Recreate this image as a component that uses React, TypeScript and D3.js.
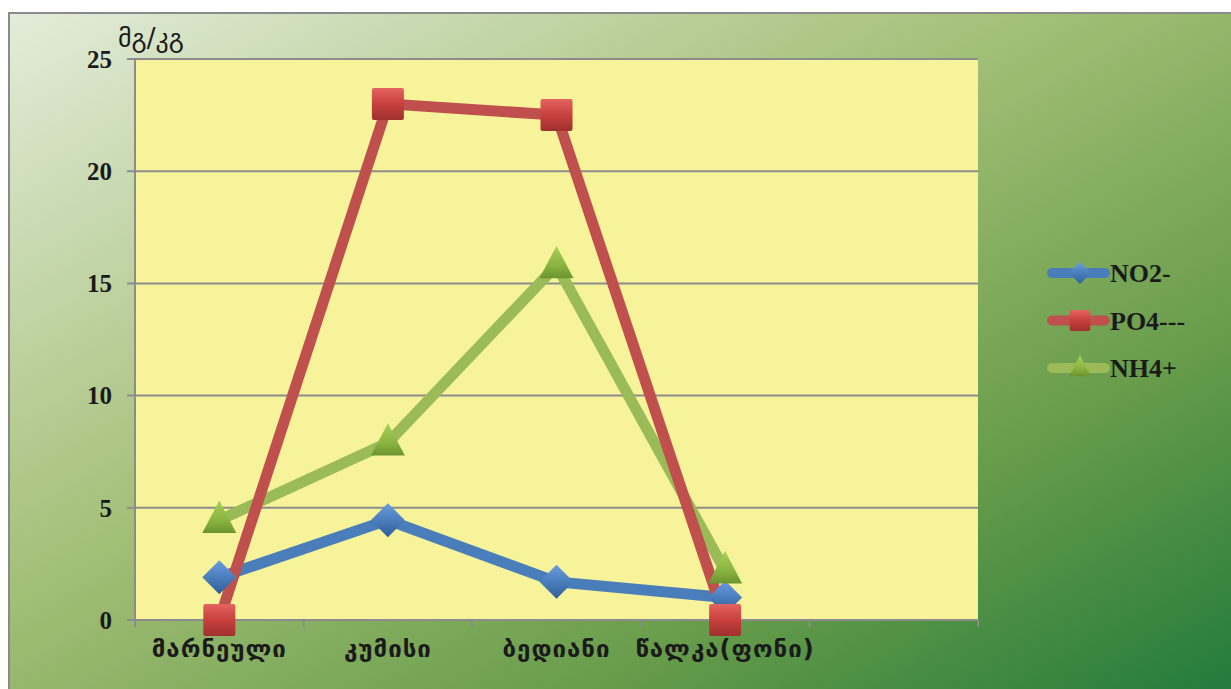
import React from "react";
import * as d3 from "d3";

const categories = ["მარნეული", "კუმისი", "ბედიანი", "წალკა(ფონი)", ""];
const no2 = [1.9, 4.45, 1.7, 1.0];
const po4 = [0, 23.0, 22.5, 0];
const nh4 = [4.45, 7.9, 15.8, 2.2];
const yTicks = [0, 5, 10, 15, 20, 25];
const seriesNames = ["NO2-", "PO4---", "NH4+"];

const W = 1231, H = 689;
const plot = { left: 135, top: 59, right: 978, bottom: 620 };

export default function App() {
  const x = d3.scaleBand<string>().domain(categories.map((c, i) => String(i))).range([plot.left, plot.right]);
  const y = d3.scaleLinear().domain([0, 25]).range([plot.bottom, plot.top]);
  const cx = (i: number) => (x(String(i)) as number) + x.bandwidth() / 2;
  const line = d3.line<number>().x((_, i) => cx(i)).y((d) => y(d));

  const series = [
    { name: seriesNames[0], data: no2, color: "#4a7ebb", marker: "diamond" },
    { name: seriesNames[1], data: po4, color: "#c0504d", marker: "square" },
    { name: seriesNames[2], data: nh4, color: "#9bbb59", marker: "triangle" },
  ];
  const lineOrder = [0, 2, 1];

  const marker = (kind: string, px: number, py: number, key: string | number, s = 1) => {
    if (kind === "diamond") {
      const r = 17 * s;
      return (
        <g key={key}>
          <path d={`M${px},${py - r}L${px + r},${py}L${px},${py + r}L${px - r},${py}Z`} fill="url(#gBlue)" />
        </g>
      );
    }
    if (kind === "square") {
      const r = 16 * s;
      return (
        <g key={key}>
          <rect x={px - r} y={py - r} width={2 * r} height={2 * r} fill="url(#gRed)" rx={2} />
        </g>
      );
    }
    const r = 17 * s;
    return (
      <g key={key}>
        <path d={`M${px},${py - r * 1.15}L${px + r},${py + r * 0.75}L${px - r},${py + r * 0.75}Z`} fill="url(#gGreen)" />
      </g>
    );
  };

  return (
    <svg width={W} height={H} style={{ position: "absolute", left: 0, top: 0 }}>
      <defs>
        <linearGradient id="bg" x1="0" y1="0" x2="1" y2="1">
          <stop offset="0" stopColor="#e3ecda" />
          <stop offset="0.42" stopColor="#a2bf76" />
          <stop offset="0.72" stopColor="#679c4a" />
          <stop offset="1" stopColor="#1d783b" />
        </linearGradient>
        <linearGradient id="gBlue" x1="0" y1="0" x2="0" y2="1">
          <stop offset="0" stopColor="#6b9be0" />
          <stop offset="0.5" stopColor="#4a7ebb" />
          <stop offset="1" stopColor="#2f5e9a" />
        </linearGradient>
        <linearGradient id="gRed" x1="0" y1="0" x2="0" y2="1">
          <stop offset="0" stopColor="#e46460" />
          <stop offset="0.5" stopColor="#c8403d" />
          <stop offset="1" stopColor="#a0302e" />
        </linearGradient>
        <linearGradient id="gGreen" x1="0" y1="0" x2="0" y2="1">
          <stop offset="0" stopColor="#a8cf58" />
          <stop offset="0.6" stopColor="#8ab540" />
          <stop offset="1" stopColor="#6b9430" />
        </linearGradient>
      </defs>
      <rect x={9} y={13} width={1240} height={700} fill="url(#bg)" stroke="#8a8a8a" strokeWidth={2} />
      <rect x={plot.left} y={plot.top} width={plot.right - plot.left} height={plot.bottom - plot.top} fill="#f7f39a" />
      {yTicks.map((t) => (
        <g key={t}>
          <line x1={plot.left - 8} x2={plot.right} y1={y(t)} y2={y(t)} stroke="#8c8c8c" strokeWidth={2} />
          <text x={112} y={y(t)} dy="0.35em" textAnchor="end" fontFamily="Liberation Serif" fontWeight="bold" fontSize={25} fill="#1a1a1a">
            {t}
          </text>
        </g>
      ))}
      <line x1={plot.left} x2={plot.left} y1={plot.top} y2={plot.bottom} stroke="#8c8c8c" strokeWidth={2} />
      {categories.map((c, i) => (
        <line key={"t" + i} x1={x(String(i)) as number} x2={x(String(i)) as number} y1={plot.bottom} y2={plot.bottom + 7} stroke="#8c8c8c" strokeWidth={2} />
      ))}
      <line x1={plot.right} x2={plot.right} y1={plot.bottom} y2={plot.bottom + 7} stroke="#8c8c8c" strokeWidth={2} />
      {categories.map((c, i) => (
        <text key={"c" + i} x={cx(i)} y={657} textAnchor="middle" fontFamily="DejaVu Sans" fontWeight="bold" fontSize={24} letterSpacing={1} fill="#1a1a1a">
          {c}
        </text>
      ))}
      <text x={118} y={47} fontFamily="DejaVu Sans" fontSize={26} fill="#1a1a1a">მგ/კგ</text>
      {lineOrder.map((si) => (
        <path key={"l" + si} d={line(series[si].data) || ""} fill="none" stroke={series[si].color} strokeWidth={11} strokeLinejoin="round" />
      ))}
      {lineOrder.map((si) => (
        <g key={"m" + si}>{series[si].data.map((v, i) => marker(series[si].marker, cx(i), y(v), i))}</g>
      ))}
      {series.map((s, i) => {
        const ly = 273 + i * 47.5;
        return (
          <g key={"lg" + i}>
            <line x1={1052} x2={1105} y1={ly} y2={ly} stroke={s.color} strokeWidth={10} strokeLinecap="round" />
            {marker(s.marker, 1080, ly, "lm", 0.65)}
            <text x={1110} y={ly} dy="0.35em" fontFamily="Liberation Serif" fontWeight="bold" fontSize={26} fill="#1a1a1a">
              {s.name}
            </text>
          </g>
        );
      })}
    </svg>
  );
}
